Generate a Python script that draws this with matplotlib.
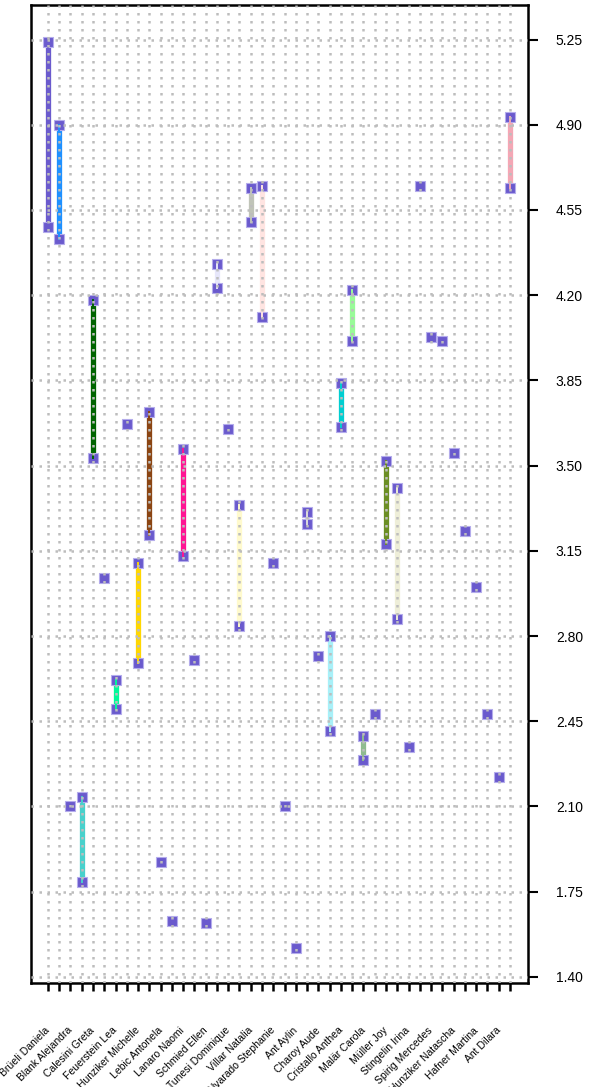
import matplotlib
matplotlib.use("Agg")
import matplotlib.pyplot as plt
import numpy as np

plt.rcParams['font.family'] = ['Liberation Sans', 'DejaVu Sans']

labels = ["Brüeli Daniela", "Blank Alejandra", "Calesini Greta", "Feuerstein Lea",
          "Hunziker Michelle", "Lebic Antonela", "Lanaro Naomi", "Schmied Ellen",
          "Tunesi Dominique", "Villar Natalia", "Alvarado Stephanie", "Ant Aylin",
          "Charoy Aude", "Cristallo Anthea", "Malär Carola", "Müller Joy",
          "Stingelin Irina", "Spirig Mercedes", "Hunziker Natascha", "Hafner Martina",
          "Ant Dilara"]

low = [4.48, 4.43, 2.10, 1.79, 3.53, 3.04, 2.50, 3.67, 2.69, 3.215,
       1.87, 1.63, 3.13, 2.70, 1.62, 4.23, 3.65, 2.84, 4.50, 4.11,
       3.10, 2.10, 1.52, 3.26, 2.72, 2.41, 3.66, 4.01, 2.29, 2.48,
       3.18, 2.87, 2.345, 4.65, 4.03, 4.01, 3.55, 3.23, 3.00, 2.48,
       2.22, 4.64]
high = [5.24, 4.90, None, 2.14, 4.18, None, 2.62, None, 3.10, 3.72,
        None, None, 3.57, None, None, 4.33, None, 3.34, 4.64, 4.65,
        None, None, None, 3.31, None, 2.80, 3.84, 4.22, 2.39, None,
        3.52, 3.41, None, None, None, None, None, None, None, None,
        None, 4.93]
range_colors = ["#6A5ACD", "#1E90FF", None, "#48D1CC", "#006400", None, "#00FA9A", None,
                "#FFD700", "#8B4513", None, None, "#FF1493", None, None, "#E6E6FA",
                None, "#FFFACD", "#C0C4B8", "#FFE4E1", None, None, None, "#DCDCDC",
                None, "#A8F0F8", "#00CED1", "#98FB98", "#8FBC8F", None, "#6B8E23",
                "#EEEED8", None, None, None, None, None, None, None, None, None,
                "#F4A7B5"]
yticks = [1.40, 1.75, 2.10, 2.45, 2.80, 3.15, 3.50, 3.85, 4.20, 4.55, 4.90, 5.25]

fig = plt.figure(figsize=(5.92, 10.87), dpi=100)
ax = fig.add_axes([31/592, 1-983/1087, (528-31)/592, (983-5)/1087])

x = np.arange(len(low))
marker_c = "#6A5ACD"
for i in x:
    lo = low[i]
    hi = high[i]
    if hi is not None:
        ax.plot([i, i], [lo, hi], color=range_colors[i], lw=3.8, solid_capstyle='butt', zorder=1.0)
    ys = [lo] if hi is None else [lo, hi]
    ax.plot([i]*len(ys), ys, linestyle='none', marker='s', markersize=7.3,
            markerfacecolor=marker_c, markeredgecolor="#B4ACEC", markeredgewidth=0.8, zorder=1.5)
    if hi is not None:
        ax.plot([i, i], [lo, hi], color=range_colors[i], lw=1.4, zorder=1.8)

ax.set_xlim(-1.5, 42.6)
ax.set_ylim(1.375, 5.392)

ax.set_xticks(x)
ax.set_xticklabels([labels[i//2] if i % 2 == 0 else "" for i in x],
                   rotation=45, ha='right', va='center', rotation_mode='anchor', fontsize=7.5)
ax.set_yticks(yticks)
ax.set_yticklabels([f"{v:.2f}" for v in yticks], fontsize=10)
ax.yaxis.tick_right()
ax.tick_params(axis='y', which='both', length=7, width=1.5, pad=13, right=True, left=False)
ax.tick_params(axis='x', length=6, width=1.8, pad=27)

for s in ax.spines.values():
    s.set_linewidth(1.8)
    s.set_color('black')

ax.set_axisbelow(False)
ax.grid(True, axis='both', color='#BDBDBD', linestyle=(0, (1, 2.2)), linewidth=1.8)

fig.savefig("out.png", dpi=100)
